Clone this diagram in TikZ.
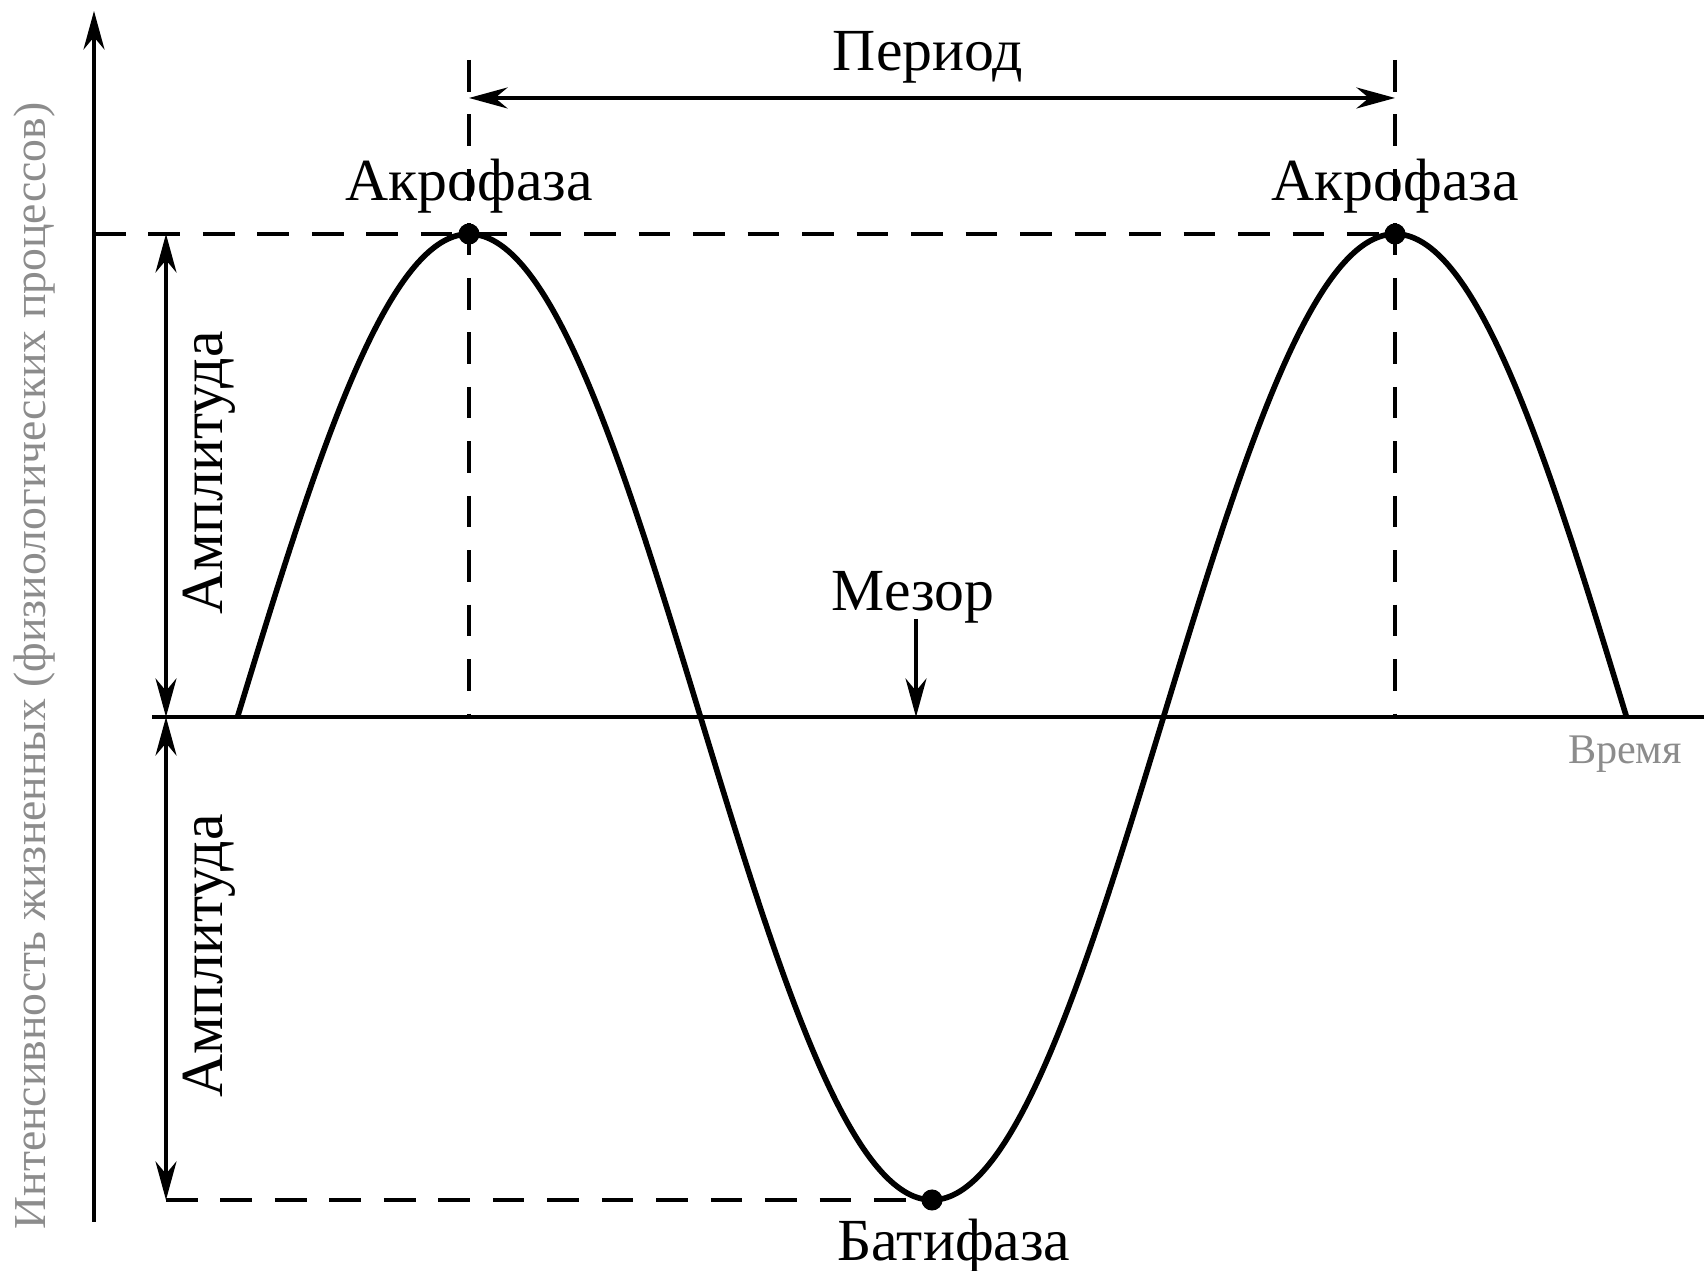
\documentclass[tikz,border=0pt]{standalone}
\usepackage{fontspec}
\setmainfont{Liberation Serif}
\usetikzlibrary{arrows.meta, positioning, calc}

\begin{document}
\begin{tikzpicture}[
    axis/.style={line width=1.2pt},
    guide/.style={line width=1.1pt, dash pattern=on 9pt off 6.5pt},
    dim/.style={line width=0.9pt, >={Stealth[length=11pt, width=6pt]}},
    wave/.style={line width=1.6pt},
    lbl/.style={font=\fontsize{17}{20}\selectfont, anchor=base},
    dimlbl/.style={font=\fontsize{17}{20}\selectfont, rotate=90},
    note/.style={font=\fontsize{13}{15}\selectfont, text=black!45},
    phase/.style={circle, fill, inner sep=0pt, minimum size=6pt}
]

\useasboundingbox (0,0) rectangle (17.04,12.71);

\def\yMes{5.54}
\def\A{4.83}
\def\T{9.26}
\def\xAcro{4.69}
\def\xDim{1.66}

% axes
\coordinate (o) at (0.94, 0.49);
\coordinate (ytop) at (0.94, 12.60);
\coordinate (tstart) at (1.52, \yMes);
\coordinate (tend) at (17.04, \yMes);
\draw[axis, dim, ->] (o) -- (ytop);
\draw[axis] (tstart) -- (tend);

% wave
\draw[wave] plot[domain={\xAcro-\T/4}:{\xAcro+\T+\T/4}, samples=240, smooth]
    (\x, {\yMes + \A*sin(360*(\x-\xAcro+\T/4)/\T)});

\node[phase] (acro1) at (\xAcro, {\yMes+\A}) {};
\node[phase] (acro2) at ({\xAcro+\T}, {\yMes+\A}) {};
\node[phase] (bati) at ({\xAcro+\T/2}, {\yMes-\A}) {};

% guides
\coordinate (g1top) at (\xAcro, 12.11);
\coordinate (g1bot) at (\xAcro, \yMes);
\coordinate (g2top) at ({\xAcro+\T}, 12.11);
\coordinate (g2bot) at ({\xAcro+\T}, \yMes);
\coordinate (hl) at (0.94, {\yMes+\A});
\coordinate (bl) at (\xDim, {\yMes-\A});
\draw[guide] (hl) -- (acro2.center);
\draw[guide] (bl) -- (bati.center);
\draw[guide] (g1top) -- (g1bot);
\draw[guide] (g2top) -- (g2bot);

% period
\coordinate (p1) at (\xAcro, 11.73);
\coordinate (p2) at ({\xAcro+\T}, 11.73);
\draw[dim, <->] (p1) -- (p2);
\node[lbl] (period) at (9.28, 12.00) {Период};

% amplitude
\coordinate (amid) at (\xDim, \yMes);
\coordinate (atop) at (\xDim, {\yMes+\A});
\coordinate (abot) at (\xDim, {\yMes-\A});
\draw[dim, <->] (atop) -- (amid);
\draw[dim, <->] (amid) -- (abot);
\node[dimlbl] (amp1) at (2.09, 7.98) {Амплитуда};
\node[dimlbl] (amp2) at (2.09, 3.15) {Амплитуда};

% labels
\node[lbl] (acro1lbl) at (\xAcro, 10.70) {Акрофаза};
\node[lbl] (acro2lbl) at ({\xAcro+\T}, 10.70) {Акрофаза};
\node[lbl] (batilbl) at (9.54, 0.10) {Батифаза};
\node[lbl] (mesor) at (9.13, 6.60) {Мезор};
\coordinate (mtop) at (9.16, 6.52);
\coordinate (mbot) at (9.16, \yMes);
\draw[dim, ->] (mtop) -- (mbot);
\node[note, font=\fontsize{12}{14}\selectfont] (time) at (16.25, 5.17) {Время};
\node[note, rotate=90] (ylbl) at (0.35, 6.05) {Интенсивность жизненных (физиологических процессов)};

\end{tikzpicture}
\end{document}
